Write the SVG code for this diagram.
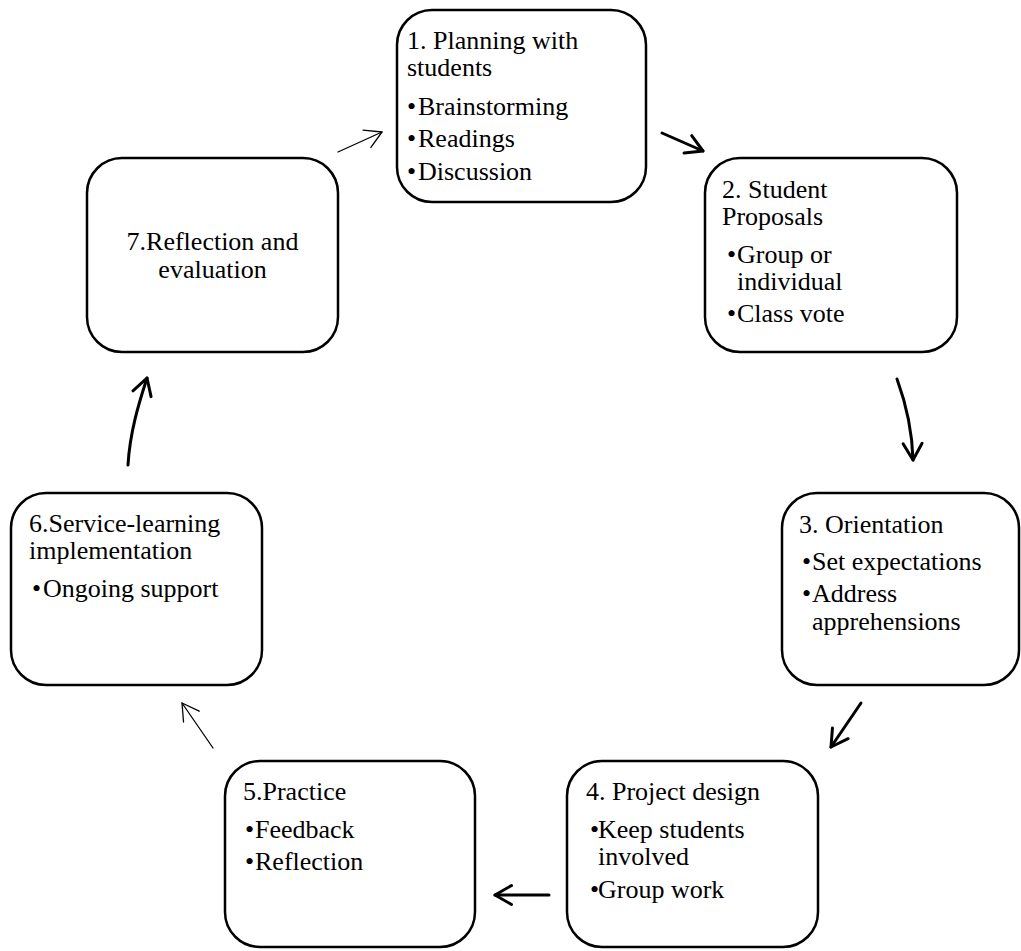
<svg xmlns="http://www.w3.org/2000/svg" width="1021" height="951" viewBox="0 0 1021 951">
<style>
.box{fill:#fff;stroke:#000;stroke-width:2.5}
text{font-family:"Liberation Serif","Times New Roman",serif;font-size:26px;fill:#000}
.c{text-anchor:middle}
.thick{fill:none;stroke:#000;stroke-width:3;stroke-linecap:round}
.thin{fill:none;stroke:#000;stroke-width:1.3;stroke-linecap:round}
</style>
<defs>
<marker id="ahThick" markerUnits="userSpaceOnUse" viewBox="-25 -15 30 30" refX="0" refY="0" markerWidth="30" markerHeight="30" orient="auto">
<path d="M-16.5,-9.5 L0,0 L-16.5,9.5" fill="none" stroke="#000" stroke-width="3" stroke-linecap="round" stroke-linejoin="round"/>
</marker>
<marker id="ahThin" markerUnits="userSpaceOnUse" viewBox="-25 -15 30 30" refX="0" refY="0" markerWidth="30" markerHeight="30" orient="auto">
<path d="M-16.5,-9.5 L0,0 L-16.5,9.5" fill="none" stroke="#000" stroke-width="1.3" stroke-linecap="round" stroke-linejoin="round"/>
</marker>
</defs>

<g id="connectors">
<path class="thin" d="M338,152 L382,132" marker-end="url(#ahThin)"/>
<path class="thick" d="M662,133 L703,151" marker-end="url(#ahThick)"/>
<path class="thick" d="M897,379 Q912,420 913,460" marker-end="url(#ahThick)"/>
<path class="thick" d="M861,703 L831,747" marker-end="url(#ahThick)"/>
<path class="thick" d="M549,895 L495,895" marker-end="url(#ahThick)"/>
<path class="thin" d="M213,748 L182,703" marker-end="url(#ahThin)"/>
<path class="thick" d="M128,465 C130,430 140,400 147,378" marker-end="url(#ahThick)"/>
</g>

<g id="node1">
<rect class="box" x="397" y="10" width="249" height="192" rx="35" ry="35"/>
<text x="407" y="49">1. Planning with</text>
<text x="407" y="76">students</text>
<text x="407" y="115">•</text><text x="418" y="115">Brainstorming</text>
<text x="407" y="147">•</text><text x="418" y="147">Readings</text>
<text x="407" y="180">•</text><text x="418" y="180">Discussion</text>
</g>

<g id="node2">
<rect class="box" x="705" y="158" width="252" height="194" rx="35" ry="35"/>
<text x="722" y="198">2. Student</text>
<text x="722" y="225">Proposals</text>
<text x="727" y="263">•</text><text x="737" y="263">Group or</text>
<text x="737" y="290">individual</text>
<text x="727" y="322">•</text><text x="737" y="322">Class vote</text>
</g>

<g id="node3">
<rect class="box" x="782" y="493" width="237" height="192" rx="35" ry="35"/>
<text x="799" y="533">3. Orientation</text>
<text x="802" y="570">•</text><text x="812" y="570">Set expectations</text>
<text x="802" y="602">•</text><text x="812" y="602">Address</text>
<text x="812" y="630">apprehensions</text>
</g>

<g id="node4">
<rect class="box" x="567" y="761" width="251" height="186" rx="35" ry="35"/>
<text x="586" y="800">4. Project design</text>
<text x="590" y="838">•</text><text x="598" y="838">Keep students</text>
<text x="598" y="865">involved</text>
<text x="590" y="898">•</text><text x="598" y="898">Group work</text>
</g>

<g id="node5">
<rect class="box" x="225" y="761" width="250" height="186" rx="35" ry="35"/>
<text x="243" y="800">5.Practice</text>
<text x="245" y="838">•</text><text x="255" y="838">Feedback</text>
<text x="245" y="870">•</text><text x="255" y="870">Reflection</text>
</g>

<g id="node6">
<rect class="box" x="11" y="493" width="251" height="192" rx="35" ry="35"/>
<text x="29" y="532">6.Service-learning</text>
<text x="29" y="559">implementation</text>
<text x="32" y="597">•</text><text x="43" y="597">Ongoing support</text>
</g>

<g id="node7">
<rect class="box" x="87" y="158" width="251" height="194" rx="35" ry="35"/>
<text class="c" x="212.5" y="250">7.Reflection and</text>
<text class="c" x="212.5" y="278">evaluation</text>
</g>
</svg>
